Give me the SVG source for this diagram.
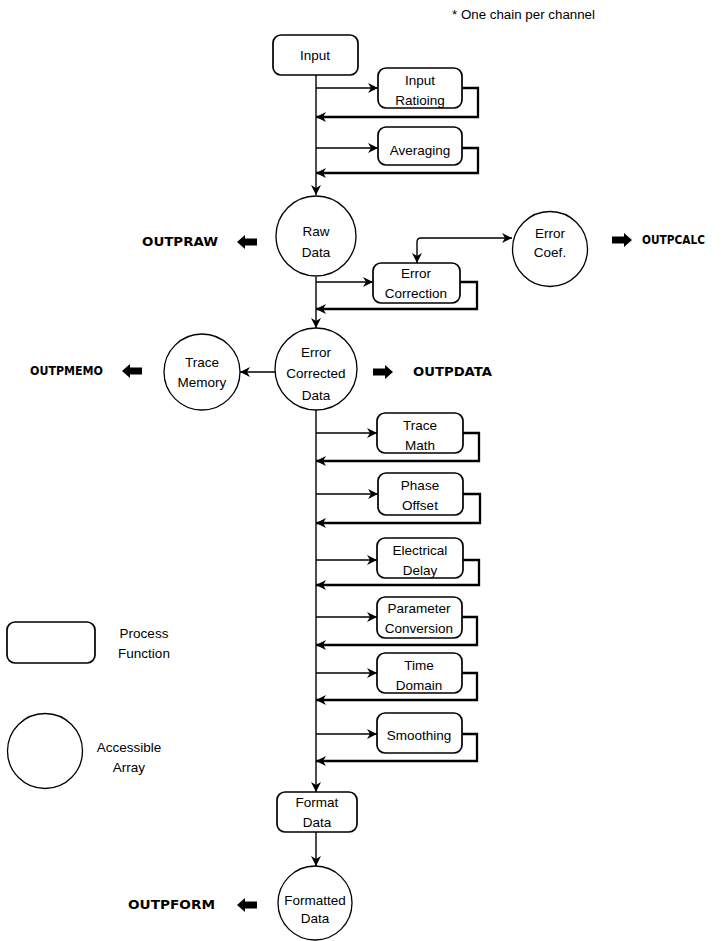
<svg xmlns="http://www.w3.org/2000/svg" width="727" height="941" viewBox="0 0 727 941">
<style>
text{font-family:"Liberation Sans",Arial,sans-serif;fill:#000}
.t{font-size:13.5px;text-anchor:middle}
.b{font-family:"DejaVu Sans","Liberation Sans",sans-serif;font-size:12px;font-weight:bold}
.n{font-size:12px}
.box{fill:#fff;stroke:#000;stroke-width:1.7}
.arr{fill:#fff;stroke:#000;stroke-width:1.3}
.main{fill:none;stroke:#000;stroke-width:1.4}
.feed{fill:none;stroke:#000;stroke-width:1.7}
.ret{fill:none;stroke:#000;stroke-width:2.3}
.fat{fill:#000}
</style>
<defs>
<marker id="ah" viewBox="0 0 10 10" refX="10" refY="5" markerWidth="10" markerHeight="10" markerUnits="userSpaceOnUse" orient="auto-start-reverse">
<path d="M0,0 L10,5 L0,10 L3,5 z" fill="#000"/>
</marker>
<path id="fatL" d="M0,0 L8,-7 L8,-3.5 L20,-3.5 L20,3.5 L8,3.5 L8,7 Z"/>
<path id="fatR" d="M0,0 L-8,-7 L-8,-3.5 L-20,-3.5 L-20,3.5 L-8,3.5 L-8,7 Z"/>
</defs>

<text class="n" x="452" y="19" textLength="143" lengthAdjust="spacingAndGlyphs">* One chain per channel</text>

<g id="connectors">
<path class="main" d="M316,75 V195" marker-end="url(#ah)"/>
<path class="main" d="M316,277 V328" marker-end="url(#ah)"/>
<path class="main" d="M316,410 V792" marker-end="url(#ah)"/>
<path class="main" d="M316,832 V866" marker-end="url(#ah)"/>
<path class="main" d="M280,372 H240" marker-end="url(#ah)"/>
<path class="main" d="M417,263 V242 Q417,238 421,238 H512" marker-start="url(#ah)" marker-end="url(#ah)"/>
<path class="feed" d="M316,88 H378" marker-end="url(#ah)"/>
<path class="feed" d="M316,148 H378" marker-end="url(#ah)"/>
<path class="feed" d="M316,282 H373" marker-end="url(#ah)"/>
<path class="feed" d="M316,433 H377" marker-end="url(#ah)"/>
<path class="feed" d="M316,494 H378" marker-end="url(#ah)"/>
<path class="feed" d="M316,560 H377" marker-end="url(#ah)"/>
<path class="feed" d="M316,617 H377" marker-end="url(#ah)"/>
<path class="feed" d="M316,673 H377" marker-end="url(#ah)"/>
<path class="feed" d="M316,734 H377" marker-end="url(#ah)"/>
<path class="ret" d="M462,88 H478 V117 H316" marker-end="url(#ah)"/>
<path class="ret" d="M462,148 H478 V173 H316" marker-end="url(#ah)"/>
<path class="ret" d="M460,282 H477 V309 H316" marker-end="url(#ah)"/>
<path class="ret" d="M463,433 H479 V461 H316" marker-end="url(#ah)"/>
<path class="ret" d="M463,494 H480 V523 H316" marker-end="url(#ah)"/>
<path class="ret" d="M463,560 H479 V585 H316" marker-end="url(#ah)"/>
<path class="ret" d="M462,617 H477 V645 H316" marker-end="url(#ah)"/>
<path class="ret" d="M462,673 H477 V700 H316" marker-end="url(#ah)"/>
<path class="ret" d="M462,734 H477 V761 H316" marker-end="url(#ah)"/>
<use href="#fatL" class="fat" x="237" y="242"/>
<use href="#fatR" class="fat" x="632" y="240"/>
<use href="#fatL" class="fat" x="122" y="371"/>
<use href="#fatR" class="fat" x="393" y="372"/>
<use href="#fatL" class="fat" x="237" y="905"/>
</g>

<g id="input"><rect class="box" x="273" y="35" width="85" height="40" rx="8"/><text class="t" x="315" y="60">Input</text></g>
<g id="input-ratioing"><rect class="box" x="378" y="68" width="84" height="40" rx="8"/><text class="t" x="420" y="85">Input</text><text class="t" x="420" y="105">Ratioing</text></g>
<g id="averaging"><rect class="box" x="378" y="127" width="84" height="38" rx="8"/><text class="t" x="420" y="155">Averaging</text></g>
<g id="raw-data"><circle class="arr" cx="316" cy="236" r="40"/><text class="t" x="316" y="236">Raw</text><text class="t" x="316" y="257">Data</text></g>
<g id="error-coef"><circle class="arr" cx="550" cy="249" r="37.5"/><text class="t" x="550" y="238">Error</text><text class="t" x="550" y="257">Coef.</text></g>
<g id="error-correction"><rect class="box" x="373" y="263" width="87" height="40" rx="8"/><text class="t" x="416" y="278">Error</text><text class="t" x="416" y="298">Correction</text></g>
<g id="error-corrected-data"><circle class="arr" cx="316" cy="369" r="41"/><text class="t" x="316" y="357">Error</text><text class="t" x="316" y="378">Corrected</text><text class="t" x="316" y="400">Data</text></g>
<g id="trace-memory"><circle class="arr" cx="202" cy="372" r="38"/><text class="t" x="202" y="367">Trace</text><text class="t" x="202" y="387">Memory</text></g>
<g id="trace-math"><rect class="box" x="377" y="413" width="86" height="40" rx="8"/><text class="t" x="420" y="430">Trace</text><text class="t" x="420" y="450">Math</text></g>
<g id="phase-offset"><rect class="box" x="378" y="473" width="85" height="42" rx="8"/><text class="t" x="420" y="490">Phase</text><text class="t" x="420" y="510">Offset</text></g>
<g id="electrical-delay"><rect class="box" x="377" y="538" width="86" height="40" rx="8"/><text class="t" x="420" y="555">Electrical</text><text class="t" x="420" y="575">Delay</text></g>
<g id="parameter-conversion"><rect class="box" x="377" y="597" width="85" height="41" rx="8"/><text class="t" x="419" y="613">Parameter</text><text class="t" x="419" y="633">Conversion</text></g>
<g id="time-domain"><rect class="box" x="377" y="653" width="85" height="40" rx="8"/><text class="t" x="419" y="670">Time</text><text class="t" x="419" y="690">Domain</text></g>
<g id="smoothing"><rect class="box" x="377" y="713" width="85" height="40" rx="8"/><text class="t" x="419" y="740">Smoothing</text></g>
<g id="format-data"><rect class="box" x="277" y="792" width="80" height="40" rx="8"/><text class="t" x="317" y="807">Format</text><text class="t" x="317" y="827">Data</text></g>
<g id="formatted-data"><circle class="arr" cx="315" cy="903" r="37"/><text class="t" x="315" y="905">Formatted</text><text class="t" x="315" y="923">Data</text></g>

<g id="outputs">
<text class="b" x="142" y="246" textLength="76" lengthAdjust="spacingAndGlyphs">OUTPRAW</text>
<text class="b" x="642" y="244" textLength="63" lengthAdjust="spacingAndGlyphs">OUTPCALC</text>
<text class="b" x="30" y="375" textLength="73" lengthAdjust="spacingAndGlyphs">OUTPMEMO</text>
<text class="b" x="413" y="376" textLength="79" lengthAdjust="spacingAndGlyphs">OUTPDATA</text>
<text class="b" x="128" y="909" textLength="87" lengthAdjust="spacingAndGlyphs">OUTPFORM</text>
</g>

<g id="legend">
<rect class="box" x="7" y="622" width="88" height="41" rx="8"/>
<text class="t" x="144" y="638">Process</text><text class="t" x="144" y="658">Function</text>
<circle class="arr" cx="45" cy="751" r="37.5"/>
<text class="t" x="129" y="752">Accessible</text><text class="t" x="129" y="772">Array</text>
</g>
</svg>
